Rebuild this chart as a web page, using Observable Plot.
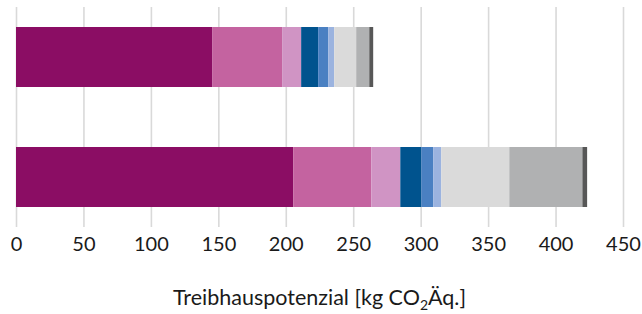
<!DOCTYPE html>
<html>
<head>
<meta charset="utf-8">
<script src="https://cdn.jsdelivr.net/npm/d3@7"></script>
<script src="https://cdn.jsdelivr.net/npm/@observablehq/plot@0.6"></script>
<style>
  html, body { margin: 0; padding: 0; background: #fff; }
  #chart svg { display: block; }
</style>
</head>
<body>
<div id="chart"></div>
<script>
const variants = ["Variante A", "Variante B"];
const components = ["K1", "K2", "K3", "K4", "K5", "K6", "K7", "K8", "K9"];
const colors = ["#8b0d64", "#c463a0", "#d094c4", "#00538e", "#4a80c2", "#9bb3df", "#dadada", "#b0b1b2", "#575757"];
const valuesA = [145.4, 51.9, 14.1, 12.6, 7.5, 4.4, 16.3, 9.7, 2.9];
const valuesB = [205.5, 57.9, 21.5, 15.5, 8.9, 6.0, 50.4, 54.2, 3.5];
const xTicks = [0, 50, 100, 150, 200, 250, 300, 350, 400, 450];
const xLabel = ["Treibhauspotenzial [kg CO", "2", "Äq.]"];

const rows = [];
[valuesA, valuesB].forEach((vals, i) => {
  vals.forEach((v, j) => rows.push({variant: variants[i], component: components[j], value: v}));
});

const chart = Plot.plot({
  width: 642,
  height: 314,
  marginLeft: 16,
  marginRight: 19,
  marginTop: 7,
  marginBottom: 87,
  style: {fontFamily: "Lato, sans-serif", fontSize: "20px", color: "#1a1a1a", background: "#fff"},
  x: {domain: [0, 450]},
  y: {domain: variants, paddingInner: 0.496, paddingOuter: 0.16},
  color: {domain: components, range: colors},
  marks: [
    Plot.gridX(xTicks, {stroke: "#d9d9d9", strokeOpacity: 1, strokeWidth: 1.6}),
    Plot.axisX(xTicks, {tickSize: 0, tickPadding: 9, label: null, fontSize: 20}),
    Plot.axisY({ticks: [], label: null, tickSize: 0}),
    Plot.barX(rows, Plot.stackX({x: "value", y: "variant", fill: "component", order: components}))
  ]
});

const svg = d3.select(chart);
const t = svg.append("text")
  .attr("x", (16 + 623) / 2)
  .attr("y", 305)
  .attr("text-anchor", "middle")
  .attr("font-size", 21.5)
  .attr("fill", "#1a1a1a");
t.append("tspan").text(xLabel[0]);
t.append("tspan").attr("dy", 5).attr("font-size", 14).text(xLabel[1]);
t.append("tspan").attr("dy", -5).text(xLabel[2]);

document.getElementById("chart").appendChild(chart);
</script>
</body>
</html>
